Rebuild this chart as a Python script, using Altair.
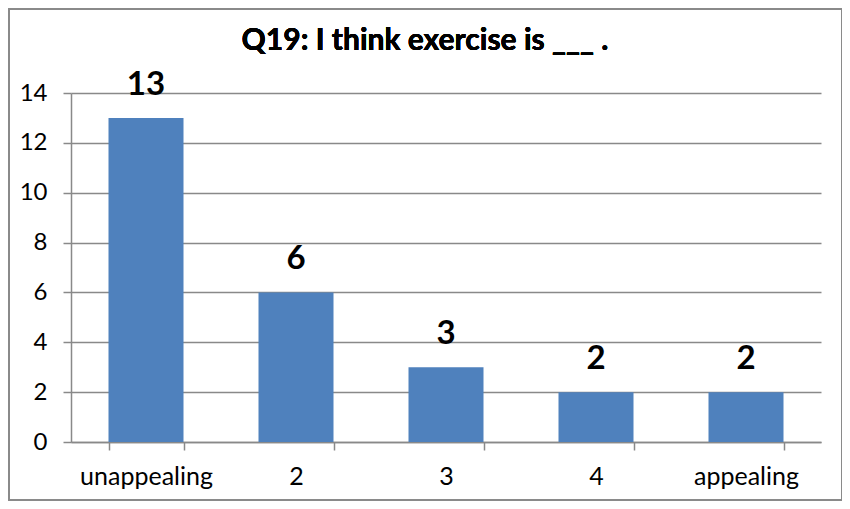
import altair as alt
import pandas as pd

categories = ["unappealing", "2", "3", "4", "appealing"]
counts = [13, 6, 3, 2, 2]
title_text = "Q19: I think exercise is ___ ."

df = pd.DataFrame({"cat": categories, "n": counts})

FONT = "Lato"
GRID = "#898989"

x = alt.X("cat:N", sort=categories, title=None,
          scale=alt.Scale(paddingInner=0.5, paddingOuter=0.25),
          axis=alt.Axis(labelAngle=0, labelFontSize=25, labelFont=FONT, labelColor="#000000",
                        labelPadding=14, tickBand="extent", tickSize=8, tickColor=GRID,
                        tickWidth=1.5, domainColor=GRID, domainWidth=1.5, grid=False))
y = alt.Y("n:Q", title=None,
          scale=alt.Scale(domain=[0, 14], nice=False),
          axis=alt.Axis(values=list(range(0, 15, 2)), labelFontSize=24, labelFont=FONT,
                        labelColor="#000000", labelPadding=16, tickSize=8, tickColor=GRID,
                        tickWidth=1.5, domainColor=GRID, domainWidth=1.5,
                        gridColor=GRID, gridWidth=1.5))

bars = alt.Chart(df).mark_bar(color="#4F81BD").encode(x=x, y=y)
labels = alt.Chart(df).mark_text(font=FONT, fontSize=33, fontWeight="bold", baseline="alphabetic",
                                 dy=-23, color="#000000").encode(
    x=alt.X("cat:N", sort=categories), y="n:Q", text="n:Q")

border = alt.Chart(df).mark_rect(fill=None, stroke="#8a8a8a", strokeWidth=1.5).encode(
    x=alt.value(-62), x2=alt.value(771), y=alt.value(-84), y2=alt.value(407))

title = alt.Chart(df).mark_text(font=FONT, fontSize=30, fontWeight="bold", color="#000000",
                                baseline="middle", align="center").encode(
    x=alt.value(354), y=alt.value(-52), text=alt.value(title_text))

chart = alt.layer(border, bars, labels, title).properties(
    width=750, height=349,
    autosize=alt.AutoSizeParams(type="none"),
    padding={"left": 63, "top": 85, "right": 21, "bottom": 59},
).configure_view(stroke=None)

chart.save("out.html", embed_options={"renderer": "svg", "actions": False})
